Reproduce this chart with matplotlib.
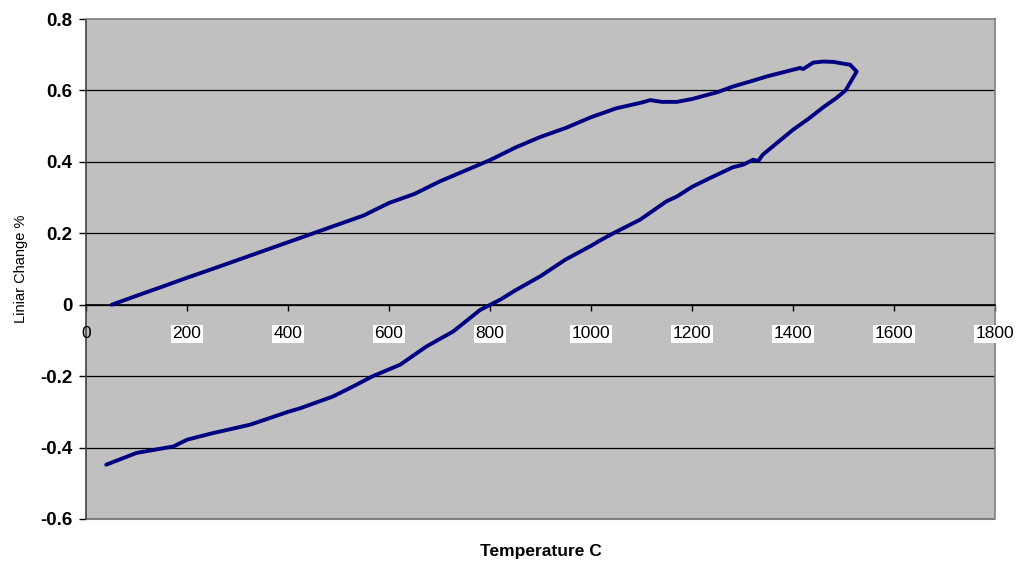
import matplotlib.pyplot as plt
from matplotlib.patches import Rectangle

plt.rcParams["font.family"] = ["Liberation Sans", "DejaVu Sans"]

# heating branch
heat_temp = [51, 100, 150, 199, 250, 300, 350, 400, 450, 500, 550, 600, 650, 700,
             750, 800, 850, 900, 950, 1000, 1050, 1100, 1117, 1140, 1170, 1200,
             1250, 1281, 1315, 1350, 1400, 1414, 1420, 1440, 1460, 1480, 1500,
             1513, 1526]
heat_change = [0.0, 0.025, 0.05, 0.075, 0.1, 0.125, 0.15, 0.175, 0.2, 0.225, 0.25,
               0.285, 0.31, 0.345, 0.375, 0.405, 0.44, 0.47, 0.495, 0.525, 0.55,
               0.566, 0.573, 0.568, 0.568, 0.576, 0.595, 0.611, 0.625, 0.64, 0.658,
               0.663, 0.66, 0.678, 0.681, 0.68, 0.675, 0.672, 0.653]

# cooling branch
cool_temp = [1526, 1504, 1486, 1460, 1430, 1400, 1370, 1340, 1331, 1321, 1301,
             1281, 1236, 1200, 1170, 1150, 1097, 1044, 1018, 1000, 949, 900, 850,
             820, 780, 727, 674, 622, 568, 530, 489, 424, 400, 325, 250, 200, 173,
             100, 40]
cool_change = [0.653, 0.6, 0.579, 0.553, 0.52, 0.49, 0.455, 0.42, 0.402, 0.406,
               0.392, 0.385, 0.355, 0.33, 0.303, 0.29, 0.238, 0.2, 0.18, 0.165,
               0.126, 0.08, 0.04, 0.014, -0.015, -0.075, -0.117, -0.168, -0.2,
               -0.228, -0.257, -0.29, -0.3, -0.336, -0.36, -0.378, -0.397, -0.415,
               -0.448]

x_ticks = [0, 200, 400, 600, 800, 1000, 1200, 1400, 1600, 1800]
y_ticks = [-0.6, -0.4, -0.2, 0, 0.2, 0.4, 0.6, 0.8]

fig = plt.figure(figsize=(10.17, 5.63), dpi=100)
ax = fig.add_axes([0.0846, 0.0782, 0.8938, 0.8880])
ax.set_facecolor("#c0c0c0")

temps = heat_temp + cool_temp[1:]
changes = heat_change + cool_change[1:]
ax.plot(temps, changes, color="#000080", lw=2.8, solid_capstyle="round",
        solid_joinstyle="round", zorder=3)

ax.set_xlim(0, 1800)
ax.set_ylim(-0.6, 0.8)

ax.tick_params(axis="x", direction="out", length=4, width=1, labelbottom=False)
ax.tick_params(axis="y", direction="out", length=5, width=1, pad=5, labelsize=13.5)

ax.set_yticks(y_ticks)
ax.set_yticklabels(["-0.6", "-0.4", "-0.2", "0", "0.2", "0.4", "0.6", "0.8"],
                   fontweight="bold")
ax.set_xticks(x_ticks)

# x tick labels sit below the zero line on white boxes
for t in x_ticks:
    box = None if t == 0 else dict(facecolor="white", edgecolor="none", pad=1)
    ax.annotate(str(t), xy=(t, 0), xytext=(0, -21), textcoords="offset points",
                ha="center", va="center", fontsize=12.5, bbox=box,
                annotation_clip=False, zorder=4)

for y in y_ticks[1:-1]:
    ax.axhline(y, color="black", lw=0.9, zorder=1)

ax.spines["bottom"].set_position(("data", 0))
ax.spines["bottom"].set_color("black")
ax.spines["left"].set_color("#404040")
ax.spines["top"].set_color("#808080")
ax.spines["right"].set_color("#808080")
for s in ax.spines.values():
    s.set_linewidth(1.2)
ax.add_patch(Rectangle((0, -0.6), 1800, 0, transform=ax.transData,
                       edgecolor="#808080", lw=1.5, clip_on=False, zorder=2))

ax.set_xlabel("Temperature C", fontsize=12.5, fontweight="bold")
ax.xaxis.set_label_coords(0.5, -0.05)
ax.set_ylabel("Liniar Change %", fontsize=10.5)
ax.yaxis.set_label_coords(-0.064, 0.5)

fig.savefig("out.png", dpi=100)
